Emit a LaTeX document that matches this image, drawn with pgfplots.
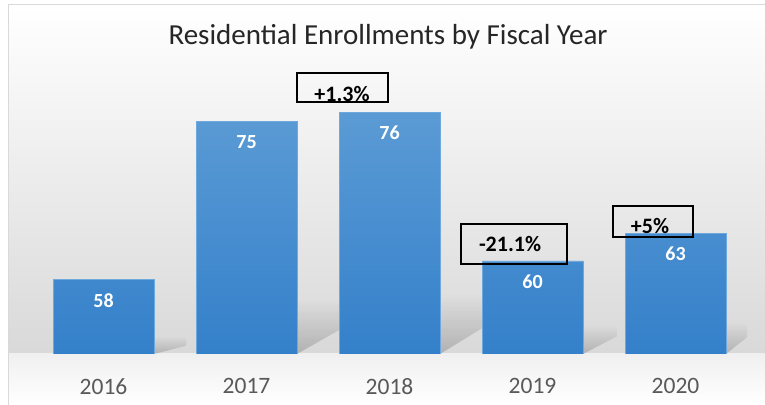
\documentclass[border=0pt]{standalone}
\usepackage{pgfplots}
\pgfplotsset{compat=1.18}
\usetikzlibrary{fadings}
\usepackage{fontspec}
\setmainfont{Carlito}
\definecolor{barTop}{HTML}{5B9BD5}
\definecolor{barBot}{HTML}{3480CA}
\definecolor{barEdge}{HTML}{6FA8DC}
\definecolor{tickgray}{HTML}{595959}
\definecolor{titlegray}{HTML}{262626}
\tikzfading[name=shadowfade, top color=transparent!100, middle color=transparent!20,
  bottom color=transparent!40]
\begin{document}
\begin{tikzpicture}[x=1pt,y=1pt]
% chart area background
\fill[white] (0,0) rectangle (765,404);
\shade[top color=white, bottom color=black!15] (8,50) rectangle (765,399);
\shade[top color=black!6, bottom color=white] (8,0) rectangle (765,50);
\draw[black!15, line width=1pt] (8,-5) -- (8,399) -- (770,399);

\begin{axis}[
  at={(32pt,50pt)}, anchor=south west,
  scale only axis, width=715pt, height=279pt,
  xmin=-0.5, xmax=4.5, ymin=50, ymax=80,
  clip mode=individual,
  axis line style={draw=none},
  ytick=\empty,
  xtick=data, xtick style={draw=none},
  xticklabels={2016,2017,2018,2019,2020},
  xticklabel style={font=\fontsize{23.5}{23.5}\selectfont, text=tickgray,
    anchor=center, yshift=-28pt},
  /pgf/number format/assume math mode=true,
  ybar, bar width=101pt,
  nodes near coords,
  every node near coord/.append style={anchor=center, yshift=-21pt,
    text=white, font=\bfseries\fontsize{20}{20}\selectfont},
]
% soft shadows behind the bars
\fill[black, opacity=0.3, path fading=shadowfade]
  (axis cs:0.353,50) -- (axis cs:0.353,51.9) -- (axis cs:0.58,51.9) -- (axis cs:0.58,50.9) -- cycle;
\fill[black, opacity=0.3, path fading=shadowfade]
  (axis cs:1.353,50) -- (axis cs:1.353,55.9) -- (axis cs:1.65,55.9) -- (axis cs:1.65,52.6) -- cycle;
\fill[black, opacity=0.3, path fading=shadowfade]
  (axis cs:2.353,50) -- (axis cs:2.353,56.4) -- (axis cs:2.65,56.4) -- (axis cs:2.65,52.8) -- cycle;
\fill[black, opacity=0.3, path fading=shadowfade]
  (axis cs:3.353,50) -- (axis cs:3.353,53.1) -- (axis cs:3.59,53.1) -- (axis cs:3.59,51.9) -- cycle;
\fill[black, opacity=0.3, path fading=shadowfade]
  (axis cs:4.353,50) -- (axis cs:4.353,53.4) -- (axis cs:4.50,53.4) -- (axis cs:4.50,51.8) -- cycle;

\addplot[ybar, draw=barEdge, line width=0.5pt, top color=barTop, bottom color=barBot]
  coordinates {(0,58) (1,75) (2,76) (3,60) (4,63)};

% change annotations
\draw[line width=2.5pt] (axis cs:1.353,80.215) rectangle (axis cs:1.990,77.097);
\node[font=\bfseries\fontsize{22}{22}\selectfont] at (axis cs:1.668,77.957) {+1.3\%};
\draw[line width=2.5pt] (axis cs:2.500,63.978) rectangle (axis cs:3.241,59.677);
\node[font=\bfseries\fontsize{22}{22}\selectfont] at (axis cs:2.843,61.828) {-21.1\%};
\draw[line width=2.5pt] (axis cs:3.563,65.914) rectangle (axis cs:4.122,62.581);
\node[font=\bfseries\fontsize{22}{22}\selectfont] at (axis cs:3.822,63.763) {+5\%};

\node[font=\fontsize{29}{29}\selectfont, text=titlegray]
  at (axis description cs:0.498,1.136) {Residential Enrollments by Fiscal Year};
\end{axis}
\pgfresetboundingbox
\useasboundingbox (0,0) rectangle (765,404);
\end{tikzpicture}
\end{document}
